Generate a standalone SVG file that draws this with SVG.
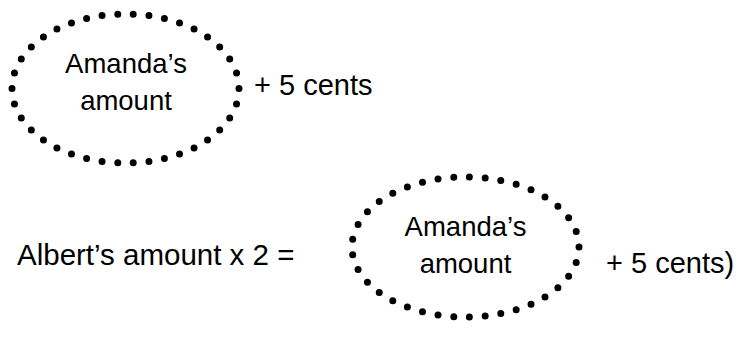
<svg xmlns="http://www.w3.org/2000/svg" width="741" height="338" viewBox="0 0 741 338">
<style>
.dots{fill:none;stroke:#000;stroke-width:7;stroke-linecap:round;stroke-dasharray:0 1}
text{font-family:"Liberation Sans",Arial,sans-serif;font-size:29px;fill:#000}
.c{text-anchor:middle;font-size:27.5px}
</style>
<rect width="741" height="338" fill="#fff"/>
<g id="node-amanda-1">
<ellipse class="dots" cx="125.5" cy="88.5" rx="113.5" ry="74.5" pathLength="38"/>
<text class="c" x="126" y="73">Amanda’s</text>
<text class="c" x="126" y="110">amount</text>
</g>
<g id="label-plus-1">
<text x="254" y="95">+ 5 cents</text>
</g>
<g id="label-albert">
<text x="17" y="264.5" style="font-size:29.5px">Albert’s amount x 2 =</text>
</g>
<g id="node-amanda-2">
<ellipse class="dots" cx="465.5" cy="247" rx="113.5" ry="70" pathLength="37"/>
<text class="c" x="465.5" y="236">Amanda’s</text>
<text class="c" x="465.5" y="273">amount</text>
</g>
<g id="label-plus-2">
<text x="606" y="273">+ 5 cents)</text>
</g>
<g id="connectors"></g>
</svg>
